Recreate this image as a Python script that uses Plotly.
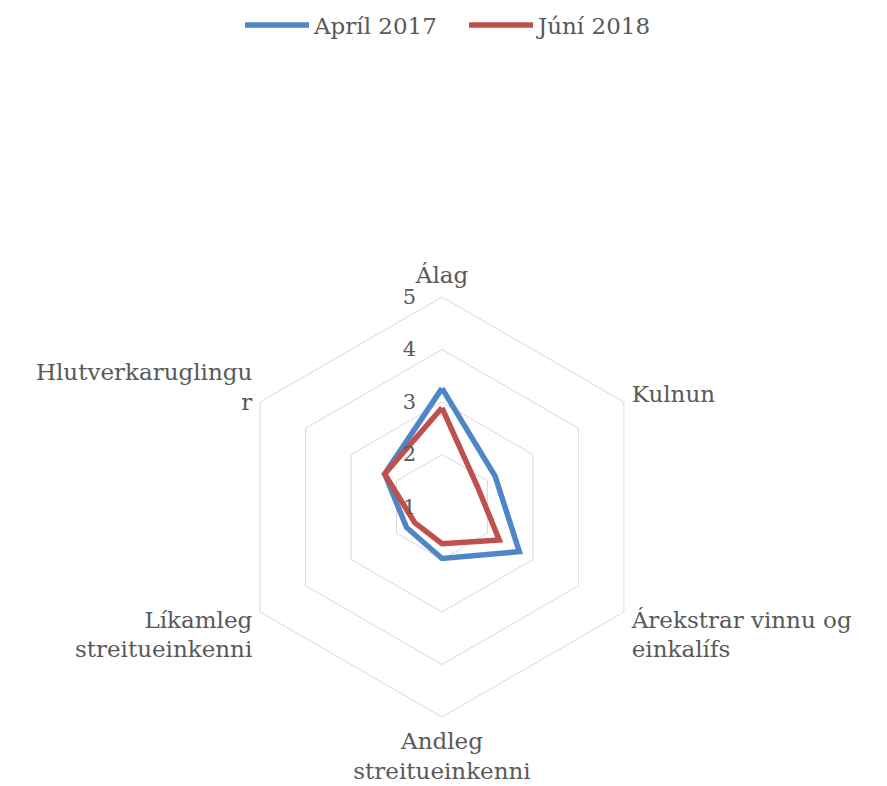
import plotly.graph_objects as go

categories = ["Álag", "Kulnun", "Árekstrar vinnu og einkalífs",
              "Andleg streitueinkenni", "Líkamleg streitueinkenni", "Hlutverkaruglingur"]
tick_labels = ["Álag", "Kulnun", "Árekstrar vinnu og<br>einkalífs",
               "Andleg<br>streitueinkenni", "Líkamleg<br>streitueinkenni", "Hlutverkaruglingu<br>r"]
april_2017 = [3.26, 2.17, 2.70, 1.98, 1.78, 2.26]
juni_2018 = [2.89, 1.78, 2.26, 1.70, 1.60, 2.26]
radial_ticks = [1, 2, 3, 4, 5]

FONT = "DejaVu Serif"
TXT = "#595959"
GRID = "#D9D9D9"

fig = go.Figure()
fig.add_trace(go.Scatterpolar(
    r=april_2017 + april_2017[:1], theta=categories + categories[:1],
    mode="lines", name="Apríl 2017",
    line=dict(color="#4F86C6", width=5.5)))
fig.add_trace(go.Scatterpolar(
    r=juni_2018 + juni_2018[:1], theta=categories + categories[:1],
    mode="lines", name="Júní 2018",
    line=dict(color="#C0504D", width=5.5)))

cx, cy, R = 434, 499, 210
W, H = 887, 786
fig.update_layout(
    width=W, height=H,
    margin=dict(l=0, r=0, t=0, b=0, autoexpand=False),
    paper_bgcolor="white", plot_bgcolor="white",
    font=dict(family=FONT, size=22, color=TXT),
    showlegend=True,
    legend=dict(orientation="h", x=(245 - 13) / W, xanchor="left", y=1 - 17 / H, yanchor="middle",
                font=dict(family=FONT, size=23, color=TXT), itemwidth=64,
                entrywidth=145, entrywidthmode="pixels"),
    polar=dict(
        domain=dict(x=[(cx - R) / W, (cx + R) / W],
                    y=[(H - cy - R) / H, (H - cy + R) / H]),
        gridshape="linear",
        bgcolor="white",
        radialaxis=dict(range=[1, 5], tickvals=radial_ticks, angle=90, tickangle=90,
                        side="counterclockwise", showline=False,
                        gridcolor=GRID, gridwidth=1,
                        ticks="outside", ticklen=18, tickcolor="rgba(0,0,0,0)",
                        tickfont=dict(family=FONT, size=21, color=TXT)),
        angularaxis=dict(rotation=90, direction="clockwise",
                         tickvals=categories, ticktext=tick_labels,
                         showgrid=False, showline=True, linecolor=GRID, linewidth=1,
                         ticks="outside", ticklen=4, tickcolor="rgba(0,0,0,0)",
                         tickfont=dict(family=FONT, size=23, color=TXT)),
    ),
)
fig.write_html("out.html")
